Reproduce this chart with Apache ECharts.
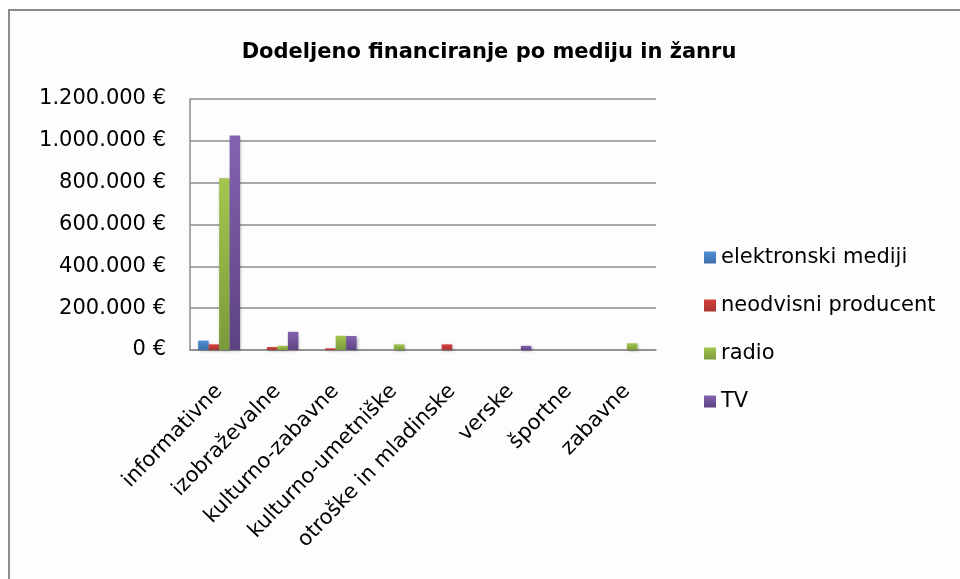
<!DOCTYPE html>
<html>
<head>
<meta charset="utf-8">
<script src="https://cdn.jsdelivr.net/npm/echarts@6/dist/echarts.min.js"></script>
<style>
  html, body { margin: 0; padding: 0; background: #fff; }
  #myChart { width: 960px; height: 579px; }
</style>
</head>
<body>
<div id="myChart"></div>
<script>
// kategorije (žanri)
const categories = ['informativne', 'izobraževalne', 'kulturno-zabavne', 'kulturno-umetniške',
  'otroške in mladinske', 'verske', 'športne', 'zabavne'];
// vrednosti po mediju (€), ocenjene s slike
const elektronskiMediji = [45000, 0, 0, 0, 0, 0, 0, 0];
const neodvisniProducent = [27000, 14000, 8000, 0, 27000, 0, 0, 0];
const radio = [821000, 20000, 68000, 27000, 0, 0, 0, 32000];
const tv = [1025000, 87000, 67000, 0, 0, 20000, 0, 0];
const seriesNames = ['elektronski mediji', 'neodvisni producent', 'radio', 'TV'];
const yTicks = [0, 200000, 400000, 600000, 800000, 1000000, 1200000];

const font = '"DejaVu Sans", "Open Sans", sans-serif';

function grad(top, bottom) {
  return new echarts.graphic.LinearGradient(0, 0, 0, 1, [
    {offset: 0, color: top},
    {offset: 1, color: bottom}
  ]);
}

// formatiranje: 1.200.000 €
function euro(v) {
  return String(v).replace(/\B(?=(\d{3})+(?!\d))/g, '.') + ' €';
}

let myChart = echarts.init(document.getElementById('myChart'));

function bar(name, data, top, bottom) {
  return {
    name: name,
    type: 'bar',
    data: data,
    barGap: '0%',
    barCategoryGap: '28%',
    itemStyle: {
      color: grad(top, bottom),
      shadowBlur: 3,
      shadowColor: 'rgba(0,0,0,0.3)',
      shadowOffsetX: 1,
      shadowOffsetY: 1
    }
  };
}

let option = {
  backgroundColor: '#fff',
  animation: false,
  graphic: [{
    type: 'rect',
    shape: {x: 9, y: 10, width: 1000, height: 1000},
    style: {fill: '#fdfdfd', stroke: '#8c8c8c', lineWidth: 2},
    z: -10
  }],
  title: {
    text: 'Dodeljeno financiranje po mediju in žanru',
    left: 484,
    textAlign: 'center',
    top: 37,
    textStyle: {fontFamily: font, fontSize: 21, fontWeight: 'bold', color: '#000'}
  },
  legend: {
    orient: 'vertical',
    left: 699,
    top: 242,
    itemWidth: 12,
    itemHeight: 12,
    itemGap: 27,
    icon: 'rect',
    data: seriesNames,
    textStyle: {fontFamily: font, fontSize: 21, lineHeight: 21, color: '#000', padding: [0, 0, 0, 0]}
  },
  grid: {left: 190, right: 304, top: 99, bottom: 229, containLabel: false},
  xAxis: {
    type: 'category',
    data: categories,
    axisLine: {lineStyle: {color: '#8c8c8c', width: 1.5}},
    axisTick: {show: false},
    axisLabel: {
      interval: 0,
      rotate: 46,
      margin: 38,
      fontFamily: font,
      fontSize: 21,
      color: '#000'
    }
  },
  yAxis: {
    type: 'value',
    min: yTicks[0],
    max: yTicks[yTicks.length - 1],
    interval: yTicks[1] - yTicks[0],
    axisLine: {show: true, lineStyle: {color: '#8c8c8c', width: 1.5}},
    axisTick: {show: false},
    splitLine: {lineStyle: {color: '#8c8c8c', width: 1.5}},
    axisLabel: {
      formatter: euro,
      margin: 24,
      fontFamily: font,
      fontSize: 21,
      color: '#000'
    }
  },
  series: [
    bar(seriesNames[0], elektronskiMediji, '#4f8fd6', '#3a6ea8'),
    bar(seriesNames[1], neodvisniProducent, '#d4403c', '#a83532'),
    bar(seriesNames[2], radio, '#a4c64f', '#7b9a3b'),
    bar(seriesNames[3], tv, '#8462b0', '#5d4380')
  ]
};

myChart.setOption(option);
</script>
</body>
</html>
